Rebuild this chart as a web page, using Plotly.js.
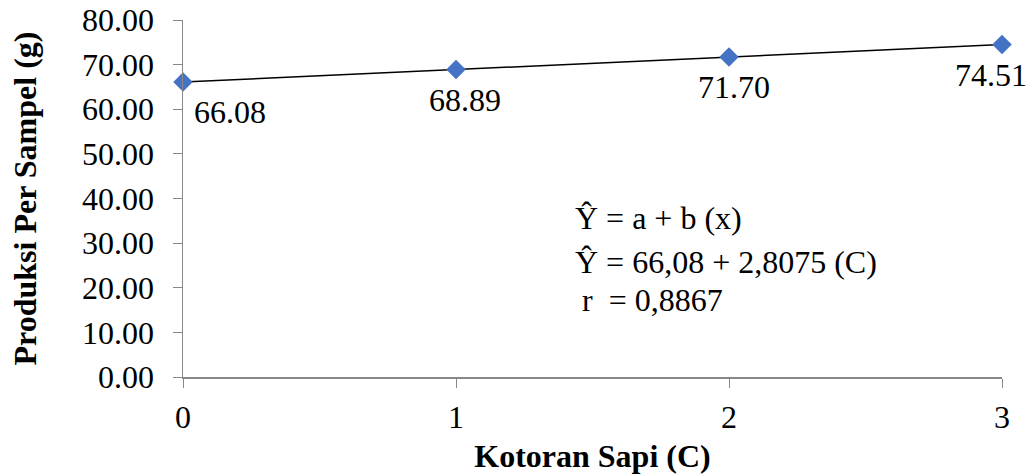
<!DOCTYPE html>
<html><head><meta charset="utf-8">
<script src="https://cdn.plot.ly/plotly-3.0.1.min.js"></script>
<style>html,body{margin:0;padding:0;background:#fff;}#chart{width:1032px;height:476px;}</style>
</head><body><div id="chart"></div>
<script>
const dosis = [0, 1, 2, 3];
const produksi = [66.08, 68.89, 71.70, 74.51];
const labelText = ['66.08', '68.89', '71.70', '74.51'];
const eqLines = ['Ŷ = a + b (x)', 'Ŷ = 66,08 + 2,8075 (C)', 'r  = 0,8867'];
const font = '"Liberation Serif", "Times New Roman", serif';
const labelShiftX = [47, 9, 5, -11];

const traces = [
  {x: dosis, y: produksi, mode: 'lines', line: {color: '#000', width: 1.5}, hoverinfo: 'skip', showlegend: false, cliponaxis: false},
  {x: dosis, y: produksi, mode: 'markers',
   marker: {symbol: 'diamond', size: 15, color: '#4472C4'}, showlegend: false, cliponaxis: false}
];
const labelAnns = dosis.map((d, i) => ({
  x: d, y: produksi[i], xref: 'x', yref: 'y', text: labelText[i], showarrow: false,
  xanchor: 'center', yanchor: 'middle', xshift: labelShiftX[i], yshift: -30,
  font: {family: font, size: 32, color: '#000'}
}));
const layout = {
  width: 1032, height: 476,
  margin: {l: 183, r: 30, t: 20, b: 99},
  paper_bgcolor: '#fff', plot_bgcolor: '#fff',
  font: {family: font, size: 32, color: '#000'},
  xaxis: {range: [0, 3], tickvals: dosis, ticktext: ['0','1','2','3'], showgrid: false, zeroline: false,
    showline: true, linecolor: '#888', linewidth: 1.5, ticks: 'outside', ticklen: 9, tickcolor: '#888',
    ticklabelstandoff: 2,
    tickfont: {family: font, size: 32}, title: {text: '<b>Kotoran Sapi (C)</b>', font: {family: font, size: 32}, standoff: 10}},
  yaxis: {range: [0, 80], dtick: 10, tickformat: '.2f', showgrid: false, zeroline: false,
    showline: true, linecolor: '#888', linewidth: 1.5, ticks: 'outside', ticklen: 9, tickcolor: '#888',
    ticklabelstandoff: 12,
    tickfont: {family: font, size: 32}, title: {text: '<b>Produksi Per Sampel (g)</b>', font: {family: font, size: 32}, standoff: 36}},
  annotations: labelAnns.concat([
    {xref: 'paper', yref: 'paper', x: (573-183)/819, y: (377-218)/357, xanchor: 'left', yanchor: 'middle', text: eqLines[0], showarrow: false, font: {family: font, size: 32}},
    {xref: 'paper', yref: 'paper', x: (573-183)/819, y: (377-262)/357, xanchor: 'left', yanchor: 'middle', text: eqLines[1], showarrow: false, font: {family: font, size: 32}},
    {xref: 'paper', yref: 'paper', x: (580-183)/819, y: (377-300)/357, xanchor: 'left', yanchor: 'middle', text: eqLines[2], showarrow: false, font: {family: font, size: 32}}
  ])
};
Plotly.newPlot('chart', traces, layout, {displayModeBar: false, staticPlot: true});
</script></body></html>
